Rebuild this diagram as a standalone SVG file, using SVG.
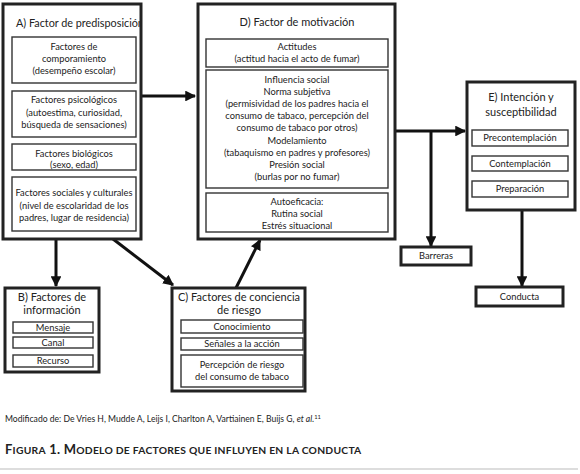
<svg xmlns="http://www.w3.org/2000/svg" width="580" height="474" viewBox="0 0 580 474">
<style>
.outer{fill:#fff;stroke:#222;stroke-width:3}
.inner{fill:#fff;stroke:#333;stroke-width:1.4}
text{font-family:Lato,"Liberation Sans",sans-serif;fill:#222}
.t{font-size:9.3px;text-anchor:middle}
.h{font-size:11px;text-anchor:middle}
.conn{stroke:#111;stroke-width:3;fill:none}
</style>
<defs>
<marker id="ah" viewBox="0 0 10 10" refX="9" refY="5" markerWidth="3.6" markerHeight="3.6" orient="auto" markerUnits="strokeWidth">
<path d="M0,0 L10,5 L0,10 z" fill="#111"/>
</marker>
<clipPath id="clipA"><rect x="3" y="4" width="137" height="235"/></clipPath>
</defs>
<rect width="580" height="474" fill="#fff"/>

<g id="connectors">
<line class="conn" x1="141" y1="96" x2="195" y2="96" marker-end="url(#ah)"/>
<line class="conn" x1="395" y1="131" x2="465" y2="131" marker-end="url(#ah)"/>
<line class="conn" x1="431" y1="131" x2="431" y2="246" marker-end="url(#ah)"/>
<line class="conn" x1="522" y1="210" x2="522" y2="286" marker-end="url(#ah)"/>
<line class="conn" x1="56" y1="239" x2="56" y2="286" marker-end="url(#ah)"/>
<line class="conn" x1="113" y1="239" x2="173" y2="285" marker-end="url(#ah)"/>
<line class="conn" x1="236" y1="288" x2="260" y2="240" marker-end="url(#ah)"/>
</g>

<g id="nodeA">
<rect class="outer" x="3" y="4" width="138" height="235"/>
<text x="16" y="27" font-size="10.8" clip-path="url(#clipA)">A) Factor de predisposición</text>
<rect class="inner" x="12" y="37" width="124" height="46"/>
<text class="t" x="74" y="50">Factores de</text>
<text class="t" x="74" y="62">comporamiento</text>
<text class="t" x="74" y="74">(desempeño escolar)</text>
<rect class="inner" x="12" y="91" width="124" height="46"/>
<text class="t" x="74" y="103">Factores psicológicos</text>
<text class="t" x="74" y="116">(autoestima, curiosidad,</text>
<text class="t" x="74" y="128">búsqueda de sensaciones)</text>
<rect class="inner" x="12" y="144" width="124" height="26"/>
<text class="t" x="74" y="157">Factores biológicos</text>
<text class="t" x="74" y="168">(sexo, edad)</text>
<rect class="inner" x="12" y="177" width="124" height="54"/>
<text class="t" x="74" y="196">Factores sociales y culturales</text>
<text class="t" x="74" y="209">(nivel de escolaridad de los</text>
<text class="t" x="74" y="221">padres, lugar de residencia)</text>
</g>

<g id="nodeD">
<rect class="outer" x="198" y="4" width="197" height="235"/>
<text class="h" x="297" y="26" font-size="11.5">D) Factor de motivación</text>
<rect class="inner" x="206" y="39" width="182" height="28"/>
<text class="t" x="297" y="50">Actitudes</text>
<text class="t" x="297" y="62">(actitud hacia el acto de fumar)</text>
<rect class="inner" x="206" y="70" width="182" height="118"/>
<text class="t" x="297" y="83">Influencia social</text>
<text class="t" x="297" y="95">Norma subjetiva</text>
<text class="t" x="297" y="107">(permisividad de los padres hacia el</text>
<text class="t" x="297" y="119">consumo de tabaco, percepción del</text>
<text class="t" x="297" y="131">consumo de tabaco por otros)</text>
<text class="t" x="297" y="144">Modelamiento</text>
<text class="t" x="297" y="156">(tabaquismo en padres y profesores)</text>
<text class="t" x="297" y="168">Presión social</text>
<text class="t" x="297" y="180">(burlas por no fumar)</text>
<rect class="inner" x="206" y="193" width="182" height="39"/>
<text class="t" x="297" y="205">Autoeficacia:</text>
<text class="t" x="297" y="217">Rutina social</text>
<text class="t" x="297" y="229">Estrés situacional</text>
</g>

<g id="nodeE">
<rect class="outer" x="467" y="82" width="108" height="128"/>
<text class="h" x="521" y="101">E) Intención y</text>
<text class="h" x="521" y="116">susceptibilidad</text>
<rect class="inner" x="472" y="130" width="96" height="16"/>
<text class="t" x="520" y="141">Precontemplación</text>
<rect class="inner" x="472" y="156" width="96" height="15"/>
<text class="t" x="520" y="167">Contemplación</text>
<rect class="inner" x="472" y="181" width="96" height="16"/>
<text class="t" x="520" y="192">Preparación</text>
</g>

<g id="nodeBarreras">
<rect class="outer" x="401" y="247" width="70" height="18" stroke-width="2.5"/>
<text class="t" x="436" y="259" font-size="8.5">Barreras</text>
</g>

<g id="nodeConducta">
<rect class="outer" x="476" y="287" width="87" height="19" stroke-width="2.5"/>
<text class="t" x="519.5" y="300">Conducta</text>
</g>

<g id="nodeB">
<rect class="outer" x="5" y="288" width="94" height="84"/>
<text class="h" x="52" y="301">B) Factores de</text>
<text class="h" x="52" y="314">información</text>
<rect class="inner" x="13" y="322" width="80" height="11"/>
<text class="t" x="53" y="331" font-size="8.5">Mensaje</text>
<rect class="inner" x="13" y="337" width="80" height="11"/>
<text class="t" x="53" y="346" font-size="8.5">Canal</text>
<rect class="inner" x="13" y="355" width="80" height="12"/>
<text class="t" x="53" y="364" font-size="8.5">Recurso</text>
</g>

<g id="nodeC">
<rect class="outer" x="172" y="288" width="133" height="103"/>
<text class="h" x="239" y="301">C) Factores de conciencia</text>
<text class="h" x="239" y="314">de riesgo</text>
<rect class="inner" x="181" y="320" width="122" height="13"/>
<text class="t" x="242" y="330" font-size="9">Conocimiento</text>
<rect class="inner" x="181" y="338" width="122" height="12"/>
<text class="t" x="242" y="347" font-size="9">Señales a la acción</text>
<rect class="inner" x="181" y="355" width="122" height="32"/>
<text class="t" x="242" y="368">Percepción de riesgo</text>
<text class="t" x="242" y="380">del consumo de tabaco</text>
</g>

<text x="5" y="422" font-size="8.6">Modificado de: De Vries H, Mudde A, Leijs I, Charlton A, Vartiainen E, Buijs G, <tspan font-style="italic">et al.</tspan><tspan font-size="5.8" dy="-3">11</tspan></text>

<text x="5" y="454" font-weight="bold" fill="#222" letter-spacing="0.25"><tspan font-size="13">F</tspan><tspan font-size="10.3">IGURA</tspan><tspan font-size="13"> 1. M</tspan><tspan font-size="10.3">ODELO DE FACTORES QUE INFLUYEN EN LA CONDUCTA</tspan></text>
<line x1="0" y1="469" x2="578" y2="469" stroke="#bbb" stroke-width="1"/>
</svg>
